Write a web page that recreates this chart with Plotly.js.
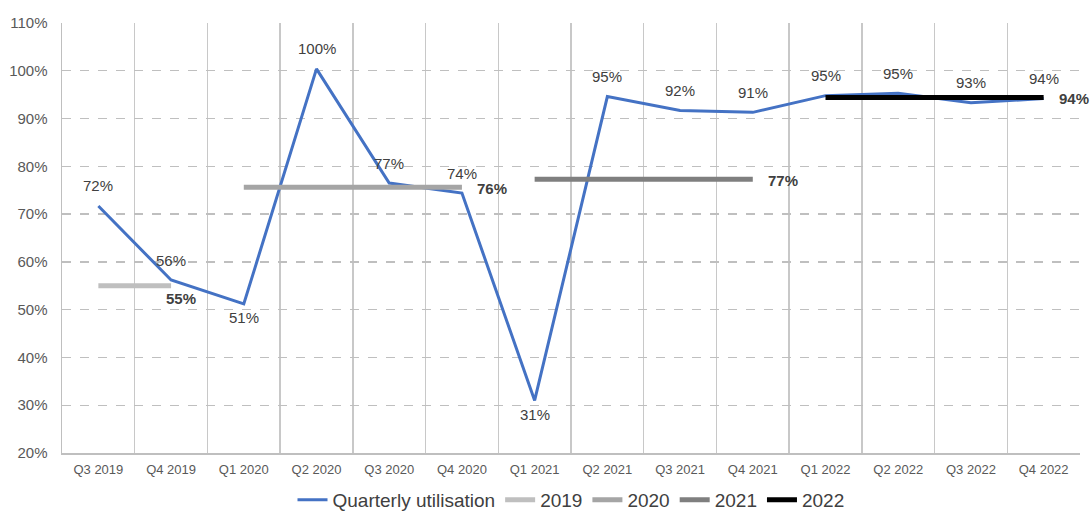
<!DOCTYPE html>
<html>
<head>
<meta charset="utf-8">
<script src="https://cdn.plot.ly/plotly-3.0.1.min.js"></script>
<style>html,body{margin:0;padding:0;background:#fff}#chart{width:1091px;height:511px}</style>
</head>
<body>
<div id="chart"></div>
<script>
var quarters = ["Q3 2019","Q4 2019","Q1 2020","Q2 2020","Q3 2020","Q4 2020","Q1 2021","Q2 2021","Q3 2021","Q4 2021","Q1 2022","Q2 2022","Q3 2022","Q4 2022"];
var utilisation = [71.7, 56.2, 51.2, 100.4, 76.5, 74.4, 31.0, 94.6, 91.7, 91.3, 94.8, 95.3, 93.3, 94.2];
var utilLabelBelow = [false,false,true,false,false,false,true,false,false,false,false,false,false,false];

var years = ["2019","2020","2021","2022"];
var yearAverages = [55, 75.6, 77.3, 94.4];
var yearStart = ["Q3 2019","Q1 2020","Q1 2021","Q1 2022"];
var yearEnd = ["Q4 2019","Q4 2020","Q4 2021","Q4 2022"];
var yearColors = ["#BFBFBF","#A5A5A5","#7F7F7F","#000000"];

var labelFont = {family: "Liberation Sans, Arial", size: 15, color: "#404040"};

var traces = [{
  x: quarters, y: utilisation, type: "scatter", mode: "lines",
  name: "Quarterly utilisation",
  line: {color: "#4472C4", width: 3},
  cliponaxis: false, hoverinfo: "skip"
}];
years.forEach(function(yr, i){
  traces.push({
    x: [yearStart[i], yearEnd[i]], y: [yearAverages[i], yearAverages[i]],
    type: "scatter", mode: "lines", name: yr,
    line: {color: yearColors[i], width: 5},
    cliponaxis: false, hoverinfo: "skip"
  });
});

var annotations = [];
quarters.forEach(function(q, i){
  annotations.push({
    x: q, y: utilisation[i], xref: "x", yref: "y",
    text: Math.round(utilisation[i]) + "%", showarrow: false,
    yshift: utilLabelBelow[i] ? -14 : 20, font: labelFont
  });
});
years.forEach(function(yr, i){
  var below = (i === 0);
  annotations.push({
    x: yearEnd[i], y: yearAverages[i], xref: "x", yref: "y",
    text: "<b>" + Math.round(yearAverages[i]) + "%</b>", showarrow: false,
    xanchor: "left", xshift: below ? -7 : 13, yshift: below ? -13 : -1,
    font: labelFont
  });
});

var layout = {
  width: 1091, height: 511,
  margin: {l: 62, r: 11, t: 23, b: 58, autoexpand: false},
  paper_bgcolor: "#fff", plot_bgcolor: "#fff",
  showlegend: true,
  annotations: annotations,
  legend: {orientation: "h", x: 0.5, xanchor: "center", xref: "paper",
    y: -0.065, yanchor: "top", yref: "paper",
    bgcolor: "rgba(0,0,0,0)",
    font: {family: "Liberation Sans, Arial", size: 19, color: "#404040"},
    traceorder: "normal", itemwidth: 30, tracegroupgap: 0},
  xaxis: {
    type: "category", categoryorder: "array", categoryarray: quarters,
    tickson: "boundaries", ticks: "", showgrid: true, gridcolor: "#C8C8C8", gridwidth: 1.3,
    showline: true, linecolor: "#BFBFBF", linewidth: 1.5, mirror: false,
    tickfont: {family: "Liberation Sans, Arial", size: 13, color: "#595959"},
    ticklabelstandoff: 4,
    range: [-0.5, 13.5], fixedrange: true, automargin: false
  },
  yaxis: {
    range: [20, 110], dtick: 10, tick0: 20, ticksuffix: "%",
    showgrid: true, gridcolor: "#BFBFBF", griddash: "dash", gridwidth: 1.3,
    showline: true, linecolor: "#BFBFBF", linewidth: 1.5,
    zeroline: false, ticks: "",
    tickfont: {family: "Liberation Sans, Arial", size: 15, color: "#595959"},
    ticklabelstandoff: 10,
    fixedrange: true, automargin: false
  }
};
Plotly.newPlot("chart", traces, layout, {displayModeBar: false, staticPlot: true});
</script>
</body>
</html>
